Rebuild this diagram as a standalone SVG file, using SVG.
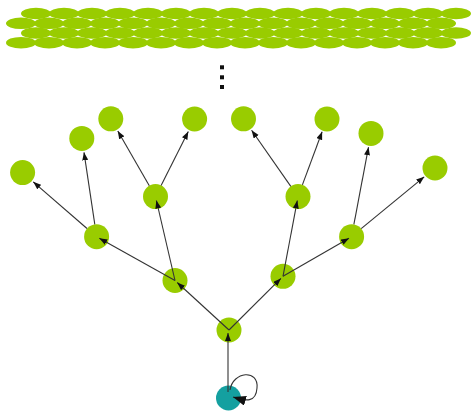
<svg xmlns="http://www.w3.org/2000/svg" width="473" height="416" viewBox="0 0 473 416">
<style>
.n{fill:#99cc00}
.t{fill:#14a0a0}
.e{fill:#99cc00}
.c{stroke:#333;stroke-width:1.1;fill:none}
</style>
<defs>
<marker id="ah" markerUnits="userSpaceOnUse" markerWidth="9" markerHeight="7" refX="8" refY="3" orient="auto"><path d="M0,0 L8,3 L0,6 z" fill="#111"/></marker>
<marker id="ahb" markerUnits="userSpaceOnUse" markerWidth="14" markerHeight="11" refX="13" refY="5" orient="auto"><path d="M0,0 L13,5 L0,10 z" fill="#111"/></marker>
</defs>
<rect width="473" height="416" fill="#fff"/>
<g id="layers">
<g id="row1">
<ellipse class="e" cx="36" cy="13.5" rx="15" ry="5.8"/><ellipse class="e" cx="64" cy="13.5" rx="15" ry="5.8"/><ellipse class="e" cx="92" cy="13.5" rx="15" ry="5.8"/><ellipse class="e" cx="120" cy="13.5" rx="15" ry="5.8"/><ellipse class="e" cx="148" cy="13.5" rx="15" ry="5.8"/><ellipse class="e" cx="176" cy="13.5" rx="15" ry="5.8"/><ellipse class="e" cx="204" cy="13.5" rx="15" ry="5.8"/><ellipse class="e" cx="232" cy="13.5" rx="15" ry="5.8"/><ellipse class="e" cx="260" cy="13.5" rx="15" ry="5.8"/><ellipse class="e" cx="288" cy="13.5" rx="15" ry="5.8"/><ellipse class="e" cx="316" cy="13.5" rx="15" ry="5.8"/><ellipse class="e" cx="344" cy="13.5" rx="15" ry="5.8"/><ellipse class="e" cx="372" cy="13.5" rx="15" ry="5.8"/><ellipse class="e" cx="400" cy="13.5" rx="15" ry="5.8"/><ellipse class="e" cx="428" cy="13.5" rx="15" ry="5.8"/><ellipse class="e" cx="456" cy="13.5" rx="15" ry="5.8"/>
</g>
<g id="row2">
<ellipse class="e" cx="21" cy="23.3" rx="15" ry="5.8"/><ellipse class="e" cx="49" cy="23.3" rx="15" ry="5.8"/><ellipse class="e" cx="77" cy="23.3" rx="15" ry="5.8"/><ellipse class="e" cx="105" cy="23.3" rx="15" ry="5.8"/><ellipse class="e" cx="133" cy="23.3" rx="15" ry="5.8"/><ellipse class="e" cx="161" cy="23.3" rx="15" ry="5.8"/><ellipse class="e" cx="189" cy="23.3" rx="15" ry="5.8"/><ellipse class="e" cx="217" cy="23.3" rx="15" ry="5.8"/><ellipse class="e" cx="245" cy="23.3" rx="15" ry="5.8"/><ellipse class="e" cx="273" cy="23.3" rx="15" ry="5.8"/><ellipse class="e" cx="301" cy="23.3" rx="15" ry="5.8"/><ellipse class="e" cx="329" cy="23.3" rx="15" ry="5.8"/><ellipse class="e" cx="357" cy="23.3" rx="15" ry="5.8"/><ellipse class="e" cx="385" cy="23.3" rx="15" ry="5.8"/><ellipse class="e" cx="413" cy="23.3" rx="15" ry="5.8"/><ellipse class="e" cx="441" cy="23.3" rx="15" ry="5.8"/>
</g>
<g id="row3">
<ellipse class="e" cx="36" cy="33" rx="15" ry="5.8"/><ellipse class="e" cx="64" cy="33" rx="15" ry="5.8"/><ellipse class="e" cx="92" cy="33" rx="15" ry="5.8"/><ellipse class="e" cx="120" cy="33" rx="15" ry="5.8"/><ellipse class="e" cx="148" cy="33" rx="15" ry="5.8"/><ellipse class="e" cx="176" cy="33" rx="15" ry="5.8"/><ellipse class="e" cx="204" cy="33" rx="15" ry="5.8"/><ellipse class="e" cx="232" cy="33" rx="15" ry="5.8"/><ellipse class="e" cx="260" cy="33" rx="15" ry="5.8"/><ellipse class="e" cx="288" cy="33" rx="15" ry="5.8"/><ellipse class="e" cx="316" cy="33" rx="15" ry="5.8"/><ellipse class="e" cx="344" cy="33" rx="15" ry="5.8"/><ellipse class="e" cx="372" cy="33" rx="15" ry="5.8"/><ellipse class="e" cx="400" cy="33" rx="15" ry="5.8"/><ellipse class="e" cx="428" cy="33" rx="15" ry="5.8"/><ellipse class="e" cx="456" cy="33" rx="15" ry="5.8"/>
</g>
<g id="row4">
<ellipse class="e" cx="21" cy="42.7" rx="15" ry="5.8"/><ellipse class="e" cx="49" cy="42.7" rx="15" ry="5.8"/><ellipse class="e" cx="77" cy="42.7" rx="15" ry="5.8"/><ellipse class="e" cx="105" cy="42.7" rx="15" ry="5.8"/><ellipse class="e" cx="133" cy="42.7" rx="15" ry="5.8"/><ellipse class="e" cx="161" cy="42.7" rx="15" ry="5.8"/><ellipse class="e" cx="189" cy="42.7" rx="15" ry="5.8"/><ellipse class="e" cx="217" cy="42.7" rx="15" ry="5.8"/><ellipse class="e" cx="245" cy="42.7" rx="15" ry="5.8"/><ellipse class="e" cx="273" cy="42.7" rx="15" ry="5.8"/><ellipse class="e" cx="301" cy="42.7" rx="15" ry="5.8"/><ellipse class="e" cx="329" cy="42.7" rx="15" ry="5.8"/><ellipse class="e" cx="357" cy="42.7" rx="15" ry="5.8"/><ellipse class="e" cx="385" cy="42.7" rx="15" ry="5.8"/><ellipse class="e" cx="413" cy="42.7" rx="15" ry="5.8"/><ellipse class="e" cx="441" cy="42.7" rx="15" ry="5.8"/>
</g>
</g>
<g id="ellipsis" fill="#111">
<rect x="220" y="65.3" width="4" height="4"/>
<rect x="220" y="75.3" width="4" height="4"/>
<rect x="220" y="85" width="4" height="4"/>
</g>
<g id="nodes">
<g id="T"><circle class="t" cx="228.5" cy="398" r="12.5"/></g>
<g id="R"><circle class="n" cx="229" cy="330" r="12.5"/></g>
<g id="A"><circle class="n" cx="175" cy="280.5" r="12.5"/></g>
<g id="B"><circle class="n" cx="283" cy="276.3" r="12.5"/></g>
<g id="A1"><circle class="n" cx="96.6" cy="236.7" r="12.5"/></g>
<g id="A2"><circle class="n" cx="155.5" cy="196.6" r="12.5"/></g>
<g id="B1"><circle class="n" cx="298" cy="196.6" r="12.5"/></g>
<g id="B2"><circle class="n" cx="351.6" cy="236.7" r="12.5"/></g>
<g id="A1a"><circle class="n" cx="22.6" cy="172.6" r="12.5"/></g>
<g id="A1b"><circle class="n" cx="81.8" cy="138.4" r="12.5"/></g>
<g id="A2a"><circle class="n" cx="110.8" cy="118.8" r="12.5"/></g>
<g id="A2b"><circle class="n" cx="194.6" cy="119" r="12.5"/></g>
<g id="B1a"><circle class="n" cx="243.5" cy="118.8" r="12.5"/></g>
<g id="B1b"><circle class="n" cx="327" cy="119" r="12.5"/></g>
<g id="B2a"><circle class="n" cx="371" cy="133.4" r="12.5"/></g>
<g id="B2b"><circle class="n" cx="435" cy="168" r="12.5"/></g>
</g>
<g id="connectors" class="c">
<line class="c" x1="228" y1="392" x2="228" y2="333" marker-end="url(#ah)"/>
<line class="c" x1="229" y1="330" x2="177.2" y2="282.5" marker-end="url(#ah)"/>
<line class="c" x1="229" y1="330" x2="280.9" y2="278.4" marker-end="url(#ah)"/>
<line class="c" x1="175" y1="280.5" x2="99.3" y2="238.2" marker-end="url(#ah)"/>
<line class="c" x1="175" y1="280.5" x2="156.4" y2="200.5" marker-end="url(#ah)"/>
<line class="c" x1="283" y1="276.3" x2="297.3" y2="200.5" marker-end="url(#ah)"/>
<line class="c" x1="283" y1="276.3" x2="349" y2="238.2" marker-end="url(#ah)"/>
<line class="c" x1="87" y1="228.5" x2="33.2" y2="181.8" marker-end="url(#ah)"/>
<line class="c" x1="94.8" y1="224.3" x2="84" y2="152.3" marker-end="url(#ah)"/>
<line class="c" x1="149.3" y1="185.8" x2="117.8" y2="130.9" marker-end="url(#ah)"/>
<line class="c" x1="161.1" y1="185.4" x2="188.3" y2="131.5" marker-end="url(#ah)"/>
<line class="c" x1="290.8" y1="186.4" x2="251.6" y2="130.2" marker-end="url(#ah)"/>
<line class="c" x1="302.4" y1="184.9" x2="322.1" y2="131.7" marker-end="url(#ah)"/>
<line class="c" x1="353.9" y1="224.4" x2="368.5" y2="147.2" marker-end="url(#ah)"/>
<line class="c" x1="361.2" y1="228.7" x2="424.2" y2="176.8" marker-end="url(#ah)"/>
<path class="c" d="M230,390 C233,371 259,369 257,388 C256,403 246,401 233,397" marker-end="url(#ahb)"/>
</g>
</svg>
